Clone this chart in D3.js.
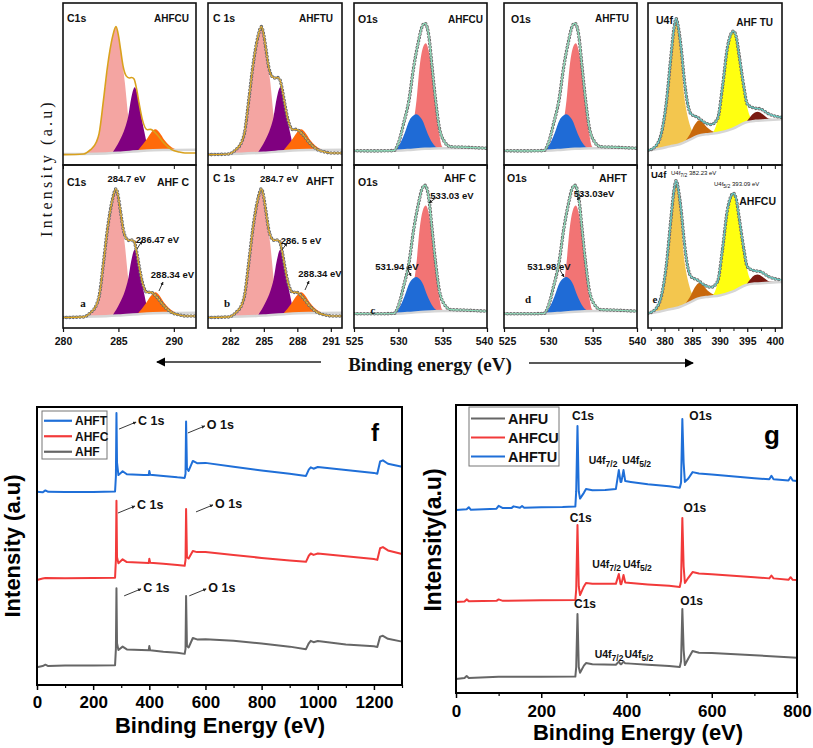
<!DOCTYPE html>
<html><head><meta charset="utf-8">
<script src="https://cdn.jsdelivr.net/npm/d3@7"></script>
<style>body{margin:0;background:#fff}svg{display:block}</style>
</head><body><svg id="c" width="813" height="748"></svg>
<script>
// ===================== DATA =====================
// High-resolution XPS (normalised intensity 0-100 per panel)
const c1sPeak1 = [[282.0,7],[282.5,9.5],[283.0,14.5],[283.3,21],[283.65,40],[284.0,58],[284.25,71],[284.5,80],[284.78,85.4],[285.0,80],[285.2,71],[285.4,61],[285.58,51],[285.88,30.5],[286.2,14],[286.5,9],[287.0,7.8]];
const c1sPeak2 = [[284.5,8],[285.1,15],[285.6,23],[285.88,30],[286.15,41],[286.47,48],[286.8,41],[287.07,30],[287.37,19.5],[287.66,11.3],[288.0,9]];
const c1sPeak3 = [[286.7,8.5],[287.5,15.4],[287.9,19.5],[288.34,22],[288.7,20],[289.15,15.4],[289.6,12],[290.05,10],[290.6,9.2]];
const c1sBaseline = [[280,6.8],[283,7],[285,7.6],[287,8.6],[289,9.2],[292,9.4]];
const c1sEnvelope = [[280,6.4],[281.86,6.8],[282.46,9.3],[283.0,14],[283.26,19.5],[283.65,40],[284.0,60],[284.24,71],[284.5,80],[284.78,85.4],[285.0,80],[285.2,71],[285.43,60.7],[285.7,55],[285.97,53.7],[286.2,54],[286.41,53.1],[286.65,46.5],[286.86,38.3],[287.16,28],[287.6,21.8],[287.9,22],[288.1,21.4],[288.5,18.7],[289.1,13.6],[289.8,9.5],[290.5,8],[291.0,7.4],[292,7.4]];

const o1sPeak1 = [[530.3,9],[530.8,10],[531.3,13],[531.6,21],[531.8,29],[532.05,40],[532.4,60.7],[532.75,72],[533.1,75.1],[533.4,71],[533.7,60.7],[534.1,40],[534.6,19.5],[534.95,11.3],[535.4,10]];
const o1sPeak2 = [[529.6,9],[530.1,12.3],[530.7,19.5],[531.27,27.8],[531.7,30.5],[532.05,31.3],[532.4,30],[532.7,27.8],[533.3,19.5],[533.8,14],[534.2,11.3],[534.8,10]];
const o1sBaseline = [[525,8.6],[529.5,8.8],[531,9.2],[533,10],[535,10.4],[540,10.5]];
const o1sEnvelope = [[525,8.8],[527,8.7],[529.5,8.9],[530.0,13.4],[530.6,25.7],[531.2,40],[531.74,60.7],[532.3,77],[532.65,85],[533.0,87.5],[533.25,85],[533.45,79.2],[533.8,60.7],[534.2,40],[534.6,23.7],[535.2,14.4],[535.9,11.3],[537.8,10.9],[540,10.3]];

const u4fPeak1 = [[377.8,9.5],[378.6,12],[379.4,19],[380.3,37],[381.2,68],[381.7,83],[382.1,90.4],[382.5,84],[382.8,76],[383.1,62],[383.4,48],[383.9,35],[384.4,27],[385.0,21],[385.6,18.5]];
const u4fPeak2 = [[383.8,15],[384.6,19],[385.5,25],[386.3,27.6],[387.0,26],[387.8,23],[388.6,21],[389.5,20]];
const u4fPeak3 = [[388.8,20],[389.6,27.4],[390.5,47.9],[391.3,68.3],[391.9,79],[392.5,82.6],[393.0,79],[393.5,68.3],[394.0,57],[394.4,47.9],[395.0,35.6],[395.5,30],[396.2,27.5]];
const u4fPeak4 = [[394.8,26.4],[395.6,30],[396.3,32.3],[396.9,32.8],[397.6,31.8],[398.3,30],[399,28.5],[400,28.2]];
const u4fBaseline = [[377,9],[379,10],[381,11.5],[382.5,12.6],[384.8,16],[386,18],[388.1,19.2],[390,20],[392.3,22.3],[394.8,26.4],[396.5,27.3],[398.2,27.6],[401.3,28.2]];
const u4fEnvelope = [[377,9],[378.2,11],[379.4,19.2],[380.3,37.6],[381.2,68.3],[381.7,84],[382.1,90.4],[382.5,85],[383.0,72.4],[383.6,52],[384.2,37.6],[384.8,31.5],[386.0,29.4],[387.2,26.4],[388.4,25],[389.6,28.4],[390.5,47.9],[391.4,72.4],[392.0,80.5],[392.5,82.6],[393.0,79],[393.5,68.3],[394.4,47.9],[395.0,37.6],[396.2,35.2],[397.4,34.6],[398.9,31.5],[401.3,29.4]];

// tick labels of the high-res panels (per column)
const hrDomains = [[280,292],[280,292],[525,540],[525,540],[377,401.3]];
const hrTicks = [[280,285,290],[282,285,288,291],[525,530,535,540],[525,530,535,540],[380,385,390,395,400]];
const hrMinor = [[],[],[],[],[377.5,382.5,387.5,392.5,397.5]];

// panel names
const topNames = ["AHFCU","AHFTU","AHFCU","AHFTU","AHF TU"];
const botNames = ["AHF C","AHFT","AHF C","AHFT","AHFCU"];
const coreNames = ["C1s","C 1s","O1s","O1s","U4f"];

// Survey f (Binding energy eV, intensity a.u.)
const fAHFT = [[0,69.5],[20,69.3],[30,70.0],[40,69.5],[100,69.4],[200,69.4],[278,69.6],[281,75],[283,97.8],[285,80],[290,75.5],[305,76.9],[320,75.8],[380,75.5],[398,75.5],[400,77],[403,75.6],[450,75.2],[500,74.7],[526,74.5],[529,76],[531,94.8],[534,78],[540,77],[555,80.6],[570,79.8],[600,79.9],[700,78.5],[800,77.2],[900,76],[958,75.2],[968,77.5],[975,78.3],[985,77.8],[1000,78.4],[1100,77.3],[1200,76.3],[1212,76],[1222,80.4],[1232,80.8],[1250,79.6],[1300,78.5]];
const fAHFC = [[0,37.8],[20,38.3],[30,38.5],[100,38.4],[200,38.5],[278,38.6],[281,45],[283,66.3],[285,46],[290,43.8],[305,45.2],[320,44.2],[398,43.9],[400,45.4],[403,44],[450,43.6],[500,43.2],[526,42.9],[529,45],[531,63.3],[534,46],[540,45.5],[555,48.2],[570,47.8],[600,47.8],[700,46.8],[800,45.7],[900,44.8],[958,44.3],[968,46.5],[975,47.3],[985,46.8],[1000,47.3],[1100,46.3],[1200,45.3],[1212,45],[1222,49.2],[1232,49.6],[1250,48.4],[1300,47.1]];
const fAHF = [[0,6.4],[20,6.8],[30,7.3],[40,6.8],[100,7.0],[200,7.0],[278,7.1],[281,13],[283,34.8],[285,15],[290,12.6],[305,13.8],[320,12.8],[398,12.5],[400,14],[403,12.5],[450,12],[500,11.6],[526,11.2],[529,13],[531,32],[534,14],[540,13.5],[555,16.9],[570,16.4],[600,16.5],[700,15.9],[800,14.9],[900,13.8],[958,12.9],[968,15],[975,15.9],[985,15.4],[1000,15.8],[1100,14.6],[1200,13.9],[1212,13.7],[1222,17.4],[1232,17.7],[1250,16.6],[1300,15.6]];
const fTicks = [0,200,400,600,800,1000,1200];
const fLegend = ["AHFT","AHFC","AHF"];
// annotation [label, energy, intensity]
const fNotes = [["C 1s",360,93.5],["O 1s",605,92.1],["C 1s",356,63.3],["O 1s",634,63.7],["C 1s",378,33.5],["O 1s",610,33.5]];

// Survey g
const gAHFTU = [[0,63.5],[25,63.8],[30,64.5],[35,63.6],[95,64],[100,65],[110,64.2],[130,64.2],[135,64.8],[150,64.3],[155,64.9],[160,64.3],[200,64.5],[250,64.6],[280,64.8],[282,70],[285,92.7],[288,70],[291,67.5],[300,69.5],[305,70.8],[320,70.4],[350,70.5],[375,70.8],[382,77.4],[386,73.3],[388,73.3],[393,77.4],[397,73.6],[410,73.3],[450,72.5],[500,71.8],[525,71.3],[528,73],[531,95.1],[534,80],[537,73.3],[545,74.5],[555,76.7],[570,76.2],[600,75.9],[700,74.6],[735,74.2],[740,75.4],[745,74.2],[780,73.8],[785,75],[790,73.8],[800,73.6]];
const gAHFCU = [[0,31.6],[20,31.8],[25,32.5],[30,31.9],[95,32],[100,32.5],[110,32],[200,32.2],[280,32.3],[282,36],[285,58.3],[288,37],[291,34],[300,37],[305,38.2],[320,37.9],[375,37.9],[382,41.3],[386,37.8],[388,37.8],[393,41],[397,38.4],[410,38.2],[450,37.7],[500,37.2],[525,36.8],[528,39],[531,60.8],[534,44],[537,38.2],[545,40],[555,42],[570,41.5],[600,41.2],[700,40.2],[735,39.8],[740,40.8],[745,39.8],[780,39.3],[785,40.2],[790,39.3],[800,39.2]];
const gAHFU = [[0,4.9],[20,5.2],[25,5.9],[30,5.2],[100,5.6],[200,5.6],[280,5.7],[282,9],[285,27.4],[288,9],[291,7],[300,9.5],[305,10.4],[320,10],[375,9.8],[382,10.9],[386,10],[388,10],[393,10.9],[397,10.3],[410,10.2],[450,9.8],[500,9.4],[525,9],[528,11],[531,29.2],[534,15],[537,9.7],[545,12],[555,14.6],[570,14],[600,13.9],[700,13.1],[800,12.2]];
const gTicks = [0,200,400,600,800];
const gLegend = ["AHFU","AHFCU","AHFTU"];
const gNotes = [["C1s",298,94.8],["O1s",574,94.8],["C1s",292.5,59.4],["O1s",560.6,62.8],["C1s",302.6,29.5],["O1s",553,30.6]];
const gUNotes = [[345,79.5,424],[353.5,43.4,425.5],[359,12.2,429]]; // [U4f7/2 energy, intensity, U4f5/2 energy]

// ===================== DRAWING =====================
const svg = d3.select('#c');
const NARROW = "'Liberation Sans Narrow','Arial Narrow','Liberation Sans',sans-serif";
const SANS = "'Liberation Sans',Arial,sans-serif";
const SERIF = "'Liberation Serif','Times New Roman',serif";

const defs = svg.append('defs');
function marker(id, color, size){
  defs.append('marker').attr('id',id).attr('viewBox','0 0 10 10').attr('refX',9).attr('refY',5)
    .attr('markerWidth',size).attr('markerHeight',size).attr('orient','auto-start-reverse')
    .append('path').attr('d','M0,0L10,5L0,10z').attr('fill',color);
}
marker('ah','#000',5); marker('ahs','#222',4); marker('ahl','#000',7);

const colX = [[63,196],[208,342],[354,487],[504,637],[648,782]];
const rowY = [[3,165],[165,328]];
const spectra = {
  C1s:{comps:[c1sPeak1,c1sPeak2,c1sPeak3],colors:['#f4a5a2','#800080','#ff6a0a'],baseline:c1sBaseline,envelope:c1sEnvelope,env:'#d9a11c'},
  O1s:{comps:[o1sPeak1,o1sPeak2],colors:['#f27474','#1f6bd6'],baseline:o1sBaseline,envelope:o1sEnvelope,env:'#86dcb6'},
  U4f:{comps:[u4fPeak1,u4fPeak2,u4fPeak3,u4fPeak4],colors:['#f3c64e','#c8680c','#ffff10','#7a1a12'],baseline:u4fBaseline,envelope:u4fEnvelope,env:'#58c6bc'}
};
const colType = ['C1s','C1s','O1s','O1s','U4f'];

function drawHR(row,col){
  const [x0,x1]=colX[col],[y0,y1]=rowY[row];
  const x=d3.scaleLinear().domain(hrDomains[col]).range([x0,x1]);
  const y=d3.scaleLinear().domain([0,100]).range([y1,y0]);
  const spec=spectra[colType[col]];
  const cid='clip'+row+col;
  defs.append('clipPath').attr('id',cid).append('rect').attr('x',x0).attr('y',y0).attr('width',x1-x0).attr('height',y1-y0);
  const g=svg.append('g').attr('clip-path',`url(#${cid})`);
  const area=d3.area().x(d=>x(d[0])).y0(y(0)).y1(d=>y(d[1])).curve(d3.curveMonotoneX);
  const line=d3.line().x(d=>x(d[0])).y(d=>y(d[1])).curve(d3.curveMonotoneX);
  spec.comps.forEach((c,i)=>g.append('path').attr('d',area(c)).attr('fill',spec.colors[i]));
  g.append('path').attr('d',area(spec.baseline)).attr('fill','#fff');
  g.append('path').attr('d',line(spec.baseline)).attr('fill','none').attr('stroke','#d6d6d6').attr('stroke-width',2.5);
  const dots = !(row===0 && col===0);
  if(dots){
    g.append('path').attr('d',line(spec.envelope)).attr('fill','none').attr('stroke','#6a6a6a')
      .attr('stroke-width',3.6).attr('stroke-linecap','round').attr('stroke-dasharray','0 3.4');
    g.append('path').attr('d',line(spec.envelope)).attr('fill','none').attr('stroke','#fff')
      .attr('stroke-width',1.5).attr('stroke-linecap','round').attr('stroke-dasharray','0 3.4');
    g.append('path').attr('d',line(spec.envelope)).attr('fill','none').attr('stroke',spec.env).attr('stroke-width',1.1);
  } else {
    g.append('path').attr('d',line(spec.envelope)).attr('fill','none').attr('stroke',spec.env).attr('stroke-width',1.6);
  }
  svg.append('rect').attr('x',x0).attr('y',y0).attr('width',x1-x0).attr('height',y1-y0)
    .attr('fill','none').attr('stroke','#111').attr('stroke-width',1.6);
  return {x,y};
}

const scalesTop=[],scalesBot=[];
for(let c=0;c<5;c++){ scalesTop.push(drawHR(0,c)); scalesBot.push(drawHR(1,c)); }

// axes of high-res panels
const edgeShift = [[0,0],[0,0],[0,-3],[3,0],[0,0]]; // label nudges for first/last tick (avoid collisions)
for(let c=0;c<5;c++){
  const x=scalesBot[c].x;
  const ax=svg.append('g').attr('transform','translate(0,328)')
    .call(d3.axisBottom(x).tickValues(hrTicks[c]).tickSize(4).tickPadding(6).tickFormat(d3.format('d')));
  ax.select('.domain').remove();
  ax.selectAll('line').attr('stroke','#111').attr('stroke-width',1.2);
  const n=hrTicks[c].length;
  ax.selectAll('text').attr('font-family',NARROW).attr('font-weight','bold').attr('font-size',10.5).attr('fill','#111')
    .attr('dx',(d,i)=> i===0?edgeShift[c][0]:(i===n-1?edgeShift[c][1]:0));
  const axm=svg.append('g').attr('transform','translate(0,328)').call(d3.axisBottom(x).tickValues(hrMinor[c]).tickSize(3).tickFormat(''));
  axm.select('.domain').remove(); axm.selectAll('line').attr('stroke','#111');
  // inner ticks on the top of lower row
  const at=svg.append('g').attr('transform','translate(0,165)').call(d3.axisBottom(x).tickValues(hrTicks[c].concat(hrMinor[c])).tickSize(4).tickFormat(''));
  at.select('.domain').remove(); at.selectAll('line').attr('stroke','#111');
}

function txt(x,y,s,opt={}){
  const t=svg.append('text').attr('x',x).attr('y',y).text(s)
    .attr('font-family',opt.family||NARROW).attr('font-size',opt.size||10)
    .attr('font-weight',opt.weight||'bold').attr('fill',opt.fill||'#111')
    .attr('text-anchor',opt.anchor||'start');
  return t;
}
function arrow(x1,y1,x2,y2,m='ahs',w=0.9){
  svg.append('line').attr('x1',x1).attr('y1',y1).attr('x2',x2).attr('y2',y2)
    .attr('stroke','#222').attr('stroke-width',w).attr('marker-end',`url(#${m})`);
}

// panel labels, top row
const topCoreOff=[[4,19],[5,19],[4,20],[7,20],[8,21]];
const topNameOff=[[7,19],[9,19],[4,20],[8,19],[9,23]];
for(let c=0;c<5;c++){
  txt(colX[c][0]+topCoreOff[c][0],rowY[0][0]+topCoreOff[c][1],coreNames[c],{size:10.5});
  txt(colX[c][1]-topNameOff[c][0],rowY[0][0]+topNameOff[c][1],topNames[c],{size:10,anchor:'end'});
}
// bottom row
const botCoreOff=[[4,21],[5,17],[4,21],[3,17],[3,13]];
const botNameOff=[[7,21],[8,20],[11,17],[10,17],[6,40]];
for(let c=0;c<5;c++){
  txt(colX[c][0]+botCoreOff[c][0],rowY[1][0]+botCoreOff[c][1],coreNames[c],{size:c===4?9.5:10.5});
  txt(colX[c][1]-botNameOff[c][0],rowY[1][0]+botNameOff[c][1],botNames[c],{size:10.5,anchor:'end'});
}
// letters
[["a",83,307],["b",227,307],["c",373,314],["d",528,303],["e",655,303]].forEach(d=>
  txt(d[1],d[2],d[0],{family:SERIF,size:11,anchor:'middle'}));

// peak annotations
txt(126.5,182,"284.7 eV",{size:9.5,anchor:'middle'});
txt(157.5,243,"286.47 eV",{size:9.5,anchor:'middle'}); arrow(137,249,142,241);
txt(172.5,278,"288.34 eV",{size:9.5,anchor:'middle'}); arrow(159,291,163,282);
txt(279,182,"284.7 eV",{size:9.5,anchor:'middle'});
txt(301,244,"286. 5 eV",{size:9.5,anchor:'middle'}); arrow(282,250,287,243);
txt(320,277,"288.34 eV",{size:9.5,anchor:'middle'}); arrow(305,290,309,281);
txt(452,199,"533.03 eV",{size:9.5,anchor:'middle'}); arrow(437,197,429,203);
txt(397,270,"531.94 eV",{size:9.5,anchor:'middle'}); arrow(407,268,411,276);
txt(594,197,"533.03eV",{size:9.5,anchor:'middle'}); arrow(583,194,577,200);
txt(549,270,"531.98 eV",{size:9.5,anchor:'middle'}); arrow(560,270,564,277);
// U4f small labels
function ulab(x,y,sub,val){
  const t=txt(x,y,"U4f",{size:6,weight:'normal'});
  t.append('tspan').attr('dy',1.5).attr('font-size',5).text(sub);
  t.append('tspan').attr('dy',-1.5).text(" "+val);
}
ulab(671,175,"7/2","382.23 eV");
ulab(714,186,"5/2","393.09 eV");

// Intensity (a.u) for high-res
svg.append('text').attr('transform','translate(52,168) rotate(-90)').attr('text-anchor','middle')
  .attr('font-family',SERIF).attr('font-size',16).attr('letter-spacing',3.2).attr('fill','#111').text('Intensity (a.u)');
// Binding energy
txt(430,371,"Binding energy (eV)",{family:SERIF,size:19,anchor:'middle'});
arrow(321,362,157,362,'ahl',1.3);
arrow(529,363,693,363,'ahl',1.3);

// ============ Survey panels ============
const colors3 = {blue:'#1f6fd8',red:'#f23a3a',gray:'#666'};
function survey(cfg){
  const x=d3.scaleLinear().domain(cfg.dom).range([cfg.x0,cfg.x1]);
  const y=d3.scaleLinear().domain([0,100]).range([cfg.y1,cfg.y0]);
  const line=d3.line().x(d=>x(d[0])).y(d=>y(d[1]));
  cfg.series.forEach(s=>svg.append('path').attr('d',line(s[0])).attr('fill','none').attr('stroke',s[1]).attr('stroke-width',2).attr('stroke-linejoin','round'));
  svg.append('rect').attr('x',cfg.x0).attr('y',cfg.y0).attr('width',cfg.x1-cfg.x0).attr('height',cfg.y1-cfg.y0)
    .attr('fill','none').attr('stroke','#000').attr('stroke-width',2);
  const ax=svg.append('g').attr('transform',`translate(0,${cfg.y1})`)
    .call(d3.axisBottom(x).tickValues(cfg.ticks).tickSize(5).tickPadding(cfg.pad).tickFormat(d3.format('d')));
  ax.select('.domain').remove();
  ax.selectAll('line').attr('stroke','#000').attr('stroke-width',1.5);
  ax.selectAll('text').attr('font-family',SANS).attr('font-weight','bold').attr('font-size',17).attr('fill','#000');
  const mn=d3.range(cfg.dom[0]+100,cfg.dom[1]+1,200);
  const am=svg.append('g').attr('transform',`translate(0,${cfg.y1})`).call(d3.axisBottom(x).tickValues(mn).tickSize(3).tickFormat(''));
  am.select('.domain').remove(); am.selectAll('line').attr('stroke','#000').attr('stroke-width',1.2);
  return {x,y};
}
const F = survey({dom:[0,1300],x0:37,x1:402,y0:407,y1:685,ticks:fTicks,pad:6,
  series:[[fAHF,colors3.gray],[fAHFC,colors3.red],[fAHFT,colors3.blue]]});
const G = survey({dom:[0,800],x0:456,x1:797,y0:405,y1:693,ticks:gTicks,pad:7,
  series:[[gAHFU,colors3.gray],[gAHFCU,colors3.red],[gAHFTU,colors3.blue]]});

// legends
function legend(x0,y0,w,h,names,cols,fs,lineW,gap){
  svg.append('rect').attr('x',x0).attr('y',y0).attr('width',w).attr('height',h).attr('fill','#fff').attr('stroke','#777').attr('stroke-width',1);
  names.forEach((n,i)=>{
    const yy=y0+gap/2+2+i*gap;
    svg.append('line').attr('x1',x0+2).attr('x2',x0+2+lineW).attr('y1',yy).attr('y2',yy).attr('stroke',cols[i]).attr('stroke-width',2.2);
    txt(x0+lineW+5,yy+fs*0.36,n,{family:SANS,size:fs,fill:'#111'});
  });
}
legend(42,411,65,48,fLegend,[colors3.blue,colors3.red,colors3.gray],12,28,15.5);
legend(469,407,90,59,gLegend,[colors3.gray,colors3.red,colors3.blue],14.5,34,19);

// annotations f
fNotes.forEach(d=>{
  const tx=F.x(d[1]),ty=F.y(d[2]);
  txt(tx,ty,d[0],{family:SANS,size:12.5});
  arrow(tx-19,ty+4,tx-2,ty-3,'ahs',0.9);
});
txt(375,441,"f",{family:SANS,size:24,anchor:'middle',fill:'#000'});
// annotations g
gNotes.forEach(d=>txt(G.x(d[1]),G.y(d[2]),d[0],{family:SANS,size:12,anchor:'middle'}));
function u4(x,y,sub){
  const t=txt(x,y,"U4f",{family:SANS,size:10.5,anchor:'middle'});
  t.append('tspan').attr('dy',3).attr('font-size',8.5).text(sub);
}
gUNotes.forEach(d=>{
  u4(G.x(d[0]),G.y(d[1]),"7/2");
  u4(G.x(d[2]),G.y(d[1]),"5/2");
});
txt(772,444,"g",{family:SANS,size:26,anchor:'middle',fill:'#000'});

// axis titles
txt(220,733,"Binding Energy (eV)",{family:SANS,size:22,anchor:'middle',fill:'#000'});
txt(638,740,"Binding Energy (eV)",{family:SANS,size:22,anchor:'middle',fill:'#000'});
svg.append('text').attr('transform','translate(20,546) rotate(-90)').attr('text-anchor','middle')
  .attr('font-family',SANS).attr('font-weight','bold').attr('font-size',22).attr('fill','#000').text('Intensity (a.u)');
svg.append('text').attr('transform','translate(441,540) rotate(-90)').attr('text-anchor','middle')
  .attr('font-family',SANS).attr('font-weight','bold').attr('font-size',23).attr('fill','#000').text('Intensity(a.u)');
</script></body></html>
